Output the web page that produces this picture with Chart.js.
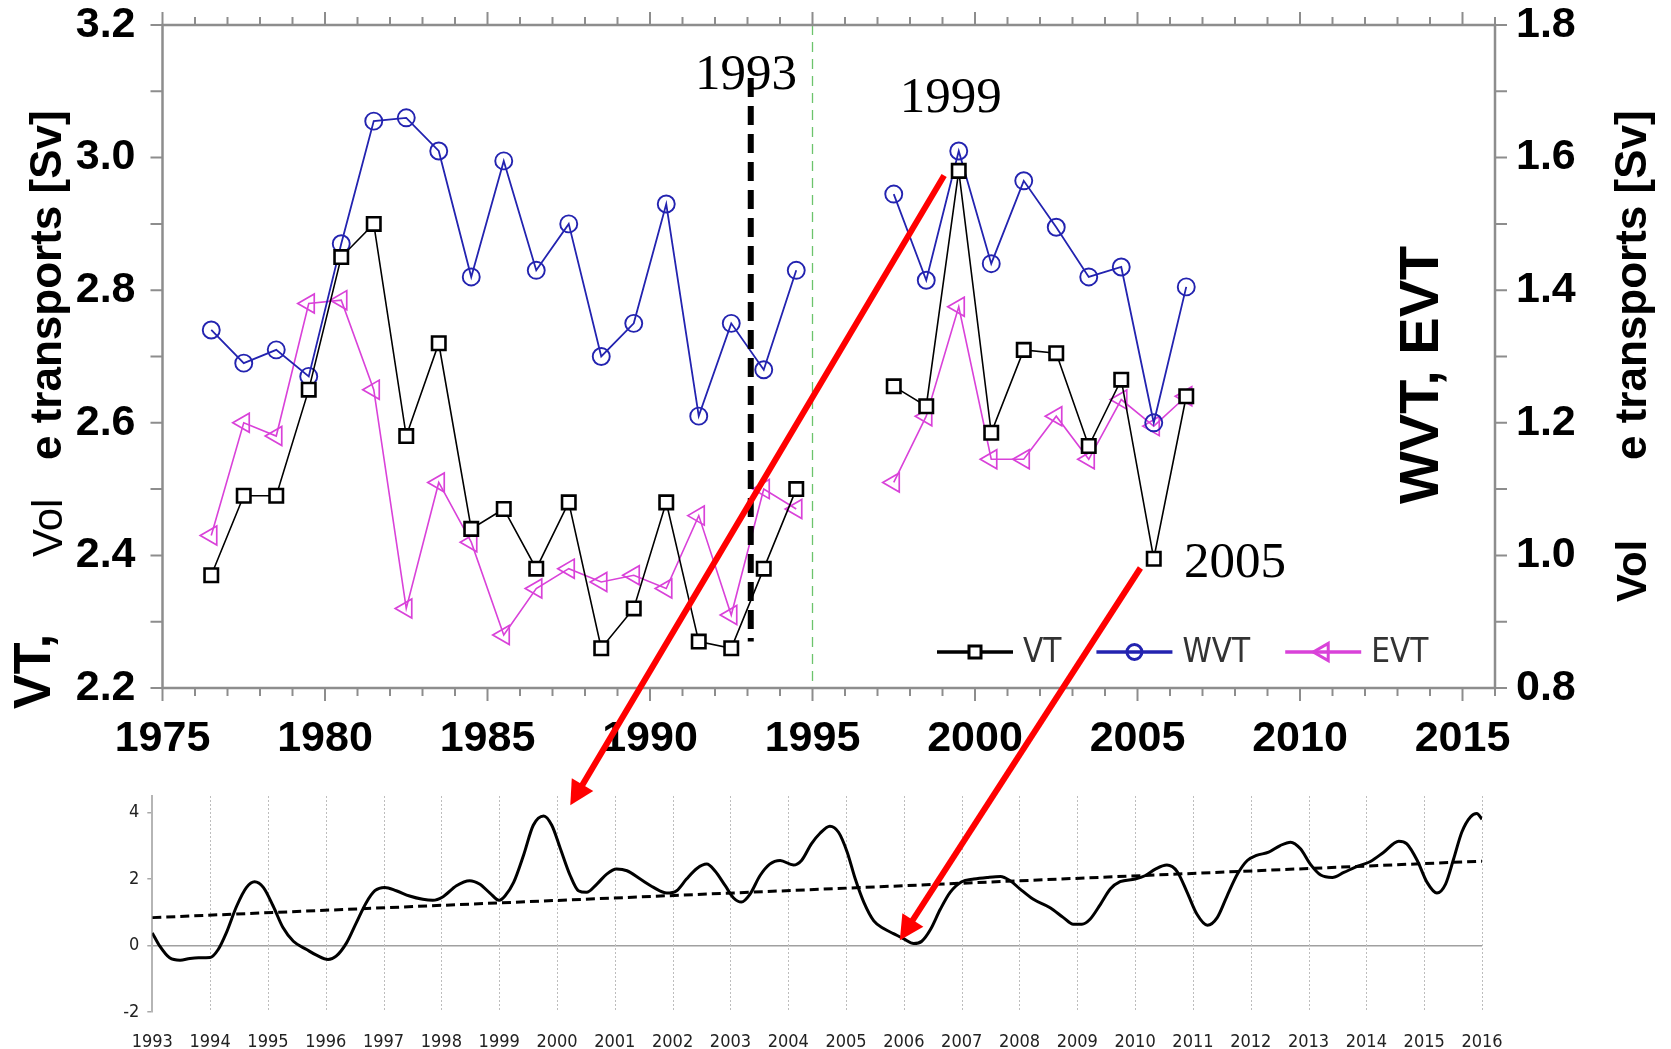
<!DOCTYPE html>
<html>
<head>
<meta charset="utf-8">
<script src="https://cdn.jsdelivr.net/npm/chart.js@4.4.1/dist/chart.umd.min.js"></script>
<style>
  html, body { margin: 0; padding: 0; background: #fff; }
  #wrap { position: relative; width: 1671px; height: 1049px; overflow: hidden; }
  #wrap canvas { position: absolute; left: 0; top: 0; }
</style>
</head>
<body>
<div id="wrap">
  <canvas id="anomaly" width="1671" height="1049"></canvas>
  <canvas id="transport" width="1671" height="1049"></canvas>
</div>
<script>
// ---- Annual volume transports (observation years centred mid-year) ----
const years = [1976.5, 1977.5, 1978.5, 1979.5, 1980.5, 1981.5, 1982.5, 1983.5, 1984.5, 1985.5,
               1986.5, 1987.5, 1988.5, 1989.5, 1990.5, 1991.5, 1992.5, 1993.5, 1994.5, 1995.5,
               1996.5, 1997.5, 1998.5, 1999.5, 2000.5, 2001.5, 2002.5, 2003.5, 2004.5, 2005.5, 2006.5];
// total transport, left axis [Sv]
const vtValues  = [2.37, 2.49, 2.49, 2.65, 2.85, 2.90, 2.58, 2.72, 2.44, 2.47,
                   2.38, 2.48, 2.26, 2.32, 2.48, 2.27, 2.26, 2.38, 2.50, null,
                   null, 2.655, 2.625, 2.98, 2.585, 2.71, 2.705, 2.565, 2.665, 2.395, 2.64];
// western branch, right axis [Sv]
const wvtValues = [1.34, 1.29, 1.31, 1.27, 1.47, 1.655, 1.66, 1.61, 1.42, 1.595,
                   1.43, 1.50, 1.30, 1.35, 1.53, 1.21, 1.35, 1.28, 1.43, null,
                   null, 1.545, 1.415, 1.61, 1.44, 1.565, 1.495, 1.42, 1.435, 1.20, 1.405];
// eastern branch, right axis [Sv]
const evtValues = [1.03, 1.20, 1.18, 1.38, 1.385, 1.25, 0.92, 1.11, 1.02, 0.88,
                   0.95, 0.98, 0.96, 0.97, 0.95, 1.06, 0.91, 1.10, 1.07, null,
                   null, 1.11, 1.21, 1.375, 1.145, 1.145, 1.21, 1.145, 1.235, 1.195, 1.24];

// ---- Smoothed anomaly series 1993-2016 ----
const anomalyYears = [1993.00, 1993.13, 1993.30, 1993.48, 1993.65, 1993.80, 1994.00, 1994.14, 1994.28, 1994.46,
  1994.63, 1994.77, 1994.92, 1995.09, 1995.26, 1995.44, 1995.67, 1995.84, 1996.04, 1996.18,
  1996.36, 1996.53, 1996.70, 1996.85, 1997.02, 1997.22, 1997.45, 1997.68, 1997.85, 1998.03,
  1998.26, 1998.49, 1998.66, 1998.84, 1999.00, 1999.10, 1999.25, 1999.42, 1999.59, 1999.77,
  1999.91, 2000.05, 2000.23, 2000.37, 2000.51, 2000.69, 2000.86, 2001.03, 2001.21, 2001.44,
  2001.67, 2001.90, 2002.07, 2002.24, 2002.42, 2002.59, 2002.73, 2002.91, 2003.05, 2003.19,
  2003.34, 2003.51, 2003.68, 2003.86, 2004.09, 2004.23, 2004.40, 2004.55, 2004.72, 2004.87,
  2005.02, 2005.16, 2005.31, 2005.48, 2005.65, 2005.82, 2006.00, 2006.17, 2006.31, 2006.46,
  2006.63, 2006.80, 2007.00, 2007.21, 2007.44, 2007.67, 2007.84, 2008.01, 2008.24, 2008.53,
  2008.76, 2008.93, 2009.08, 2009.22, 2009.40, 2009.57, 2009.74, 2010.00, 2010.17, 2010.35,
  2010.55, 2010.73, 2010.90, 2011.07, 2011.25, 2011.42, 2011.59, 2011.77, 2011.94, 2012.10,
  2012.31, 2012.51, 2012.69, 2012.86, 2013.03, 2013.21, 2013.41, 2013.61, 2013.84, 2014.07,
  2014.30, 2014.56, 2014.70, 2014.88, 2015.05, 2015.22, 2015.37, 2015.51, 2015.65, 2015.80,
  2015.91, 2016.00];
const anomalyValues = [0.38, -0.02, -0.37, -0.44, -0.39, -0.37, -0.36, -0.12, 0.38, 1.19,
  1.75, 1.92, 1.75, 1.19, 0.54, 0.13, -0.12, -0.29, -0.42, -0.32,
  0.08, 0.69, 1.29, 1.65, 1.75, 1.65, 1.49, 1.39, 1.36, 1.47,
  1.80, 1.95, 1.85, 1.58, 1.36, 1.49, 1.90, 2.71, 3.62, 3.90,
  3.62, 2.96, 2.10, 1.65, 1.60, 1.85, 2.15, 2.30, 2.25, 2.00,
  1.75, 1.58, 1.65, 2.00, 2.32, 2.45, 2.25, 1.80, 1.44, 1.31,
  1.55, 2.10, 2.45, 2.56, 2.42, 2.56, 3.06, 3.38, 3.59, 3.41,
  2.81, 2.00, 1.29, 0.74, 0.51, 0.36, 0.20, 0.06, 0.13, 0.48,
  1.09, 1.60, 1.92, 2.00, 2.05, 2.08, 1.95, 1.70, 1.39, 1.14,
  0.84, 0.64, 0.64, 0.79, 1.24, 1.70, 1.92, 2.00, 2.10, 2.30,
  2.42, 2.22, 1.60, 0.94, 0.61, 0.84, 1.49, 2.15, 2.56, 2.71,
  2.81, 3.01, 3.11, 2.91, 2.45, 2.12, 2.05, 2.20, 2.38, 2.53,
  2.81, 3.14, 3.06, 2.56, 1.90, 1.58, 1.85, 2.61, 3.41, 3.87,
  3.97, 3.80];
const trendYears  = [1993, 2016];
const trendValues = [0.84, 2.54];

// ---- Annotations (year / left-axis level pairs) ----
const markerYear = 1993.1;
const markerRange = [2.27, 3.12];
const boundaryYear = 1995;
const noteLabels = ['1993', '1999', '2005'];
const noteYears  = [1992.95, 1999.25, 2008.0];
const noteLevels = [3.104, 3.069, 2.368];
const arrowFromYears  = [1999.05, 2005.09];
const arrowFromLevels = [2.973, 2.381];
const arrowToYears    = [2000.23, 2005.93];
const arrowToLevels   = [4.22, 0.16];

const SANS = '"Liberation Sans", Arial, sans-serif';
const NARROW = '"Liberation Sans Narrow", "DejaVu Sans Condensed", sans-serif';
const SERIF = '"Liberation Serif", "Times New Roman", serif';
const AXIS_GREY = '#8d8d8d';
const BLUE = '#2323b0';
const MAGENTA = '#d942d9';

const toPoints = (xs, ys) => xs.map((x, i) => ({ x, y: ys[i] }));

// ================= lower panel: anomaly curve =================
const yearGrid = {
  id: 'yearGrid',
  beforeDatasetsDraw(chart) {
    const { ctx, chartArea: a, scales: { x } } = chart;
    ctx.save();
    ctx.strokeStyle = '#bdbdbd';
    ctx.lineWidth = 1;
    ctx.setLineDash([2, 2]);
    for (let yr = 1994; yr <= 2016; yr++) {
      const X = Math.round(x.getPixelForValue(yr)) + 0.5;
      ctx.beginPath();
      ctx.moveTo(X, a.top);
      ctx.lineTo(X, a.bottom);
      ctx.stroke();
    }
    ctx.restore();
  }
};

const anomalyChart = new Chart(document.getElementById('anomaly'), {
  type: 'line',
  data: {
    datasets: [
      {
        data: toPoints(anomalyYears, anomalyValues),
        borderColor: '#000', borderWidth: 3, pointRadius: 0,
        cubicInterpolationMode: 'monotone'
      },
      {
        data: toPoints(trendYears, trendValues),
        borderColor: '#000', borderWidth: 3, borderDash: [9, 5], pointRadius: 0
      }
    ]
  },
  options: {
    responsive: false, animation: false, events: [],
    layout: { padding: { top: 796, left: 0, right: 189, bottom: 0 } },
    plugins: { legend: { display: false }, tooltip: { enabled: false } },
    scales: {
      x: {
        type: 'linear', min: 1993, max: 2016,
        afterFit: s => { s.height = 37; },
        grid: { display: false }, border: { display: false },
        ticks: {
          stepSize: 1, autoSkip: false, maxRotation: 0, includeBounds: false, padding: 12,
          color: '#222', font: { family: NARROW, size: 18 },
          callback: v => String(v)
        }
      },
      y: {
        min: -2, max: 4.5,
        afterFit: s => { s.width = 152.3; },
        grid: {
          color: c => (c.tick && c.tick.value === 0 ? '#a0a0a0' : 'rgba(0,0,0,0)'),
          lineWidth: 1.5, tickColor: '#a8a8a8', tickLength: 5
        },
        border: { display: true, color: '#b5b5b5', width: 2 },
        ticks: {
          stepSize: 2, includeBounds: false, padding: 8,
          color: '#222', font: { family: NARROW, size: 18 },
          callback: v => String(v)
        }
      }
    }
  },
  plugins: [yearGrid]
});

// ================= upper panel: transports =================
function vText(ctx, text, x, y, font, color) {
  ctx.save();
  ctx.translate(x, y);
  ctx.rotate(-Math.PI / 2);
  ctx.font = font;
  ctx.fillStyle = color || '#000';
  ctx.textAlign = 'left';
  ctx.textBaseline = 'alphabetic';
  ctx.fillText(text, 0, 0);
  ctx.restore();
}

function marker(ctx, style, x, y, r, color, width, fill) {
  ctx.save();
  ctx.strokeStyle = color;
  ctx.lineWidth = width;
  ctx.beginPath();
  if (style === 'rect') {
    ctx.rect(x - r, y - r, 2 * r, 2 * r);
  } else if (style === 'circle') {
    ctx.arc(x, y, r, 0, Math.PI * 2);
  } else {
    ctx.moveTo(x - r, y);
    ctx.lineTo(x + r * 0.5, y - r * 0.866);
    ctx.lineTo(x + r * 0.5, y + r * 0.866);
    ctx.closePath();
  }
  if (fill) { ctx.fillStyle = fill; ctx.fill(); }
  ctx.stroke();
  ctx.restore();
}

function arrow(ctx, x1, y1, x2, y2) {
  const ang = Math.atan2(y2 - y1, x2 - x1);
  const head = 24, half = 12.5;
  const bx = x2 - head * Math.cos(ang), by = y2 - head * Math.sin(ang);
  ctx.save();
  ctx.strokeStyle = '#ff0000';
  ctx.fillStyle = '#ff0000';
  ctx.lineWidth = 6;
  ctx.beginPath();
  ctx.moveTo(x1, y1);
  ctx.lineTo(bx + 2 * Math.cos(ang), by + 2 * Math.sin(ang));
  ctx.stroke();
  ctx.beginPath();
  ctx.moveTo(x2, y2);
  ctx.lineTo(bx + half * Math.sin(ang), by - half * Math.cos(ang));
  ctx.lineTo(bx - half * Math.sin(ang), by + half * Math.cos(ang));
  ctx.closePath();
  ctx.fill();
  ctx.restore();
}

const frameTicks = {
  id: 'frameTicks',
  beforeDatasetsDraw(chart) {
    const { ctx, chartArea: a, scales: { x, y, y2 } } = chart;
    ctx.save();
    // boundary of the record gap
    ctx.strokeStyle = '#6cc46c';
    ctx.lineWidth = 1.3;
    ctx.setLineDash([10, 7]);
    const gx = x.getPixelForValue(boundaryYear);
    ctx.beginPath(); ctx.moveTo(gx, a.top); ctx.lineTo(gx, a.bottom); ctx.stroke();
    ctx.setLineDash([]);
    // frame
    ctx.strokeStyle = AXIS_GREY;
    ctx.lineWidth = 2.5;
    ctx.strokeRect(a.left, a.top, a.right - a.left, a.bottom - a.top);
    // ticks
    ctx.lineWidth = 2;
    ctx.beginPath();
    for (let yr = 1975; yr <= 2016; yr++) {
      const X = x.getPixelForValue(yr);
      const len = yr % 5 === 0 ? 13 : 8;
      ctx.moveTo(X, a.bottom); ctx.lineTo(X, a.bottom + len);
      ctx.moveTo(X, a.top); ctx.lineTo(X, a.top - len);
    }
    for (let k = 0; k <= 10; k++) {
      const YL = y.getPixelForValue(2.2 + k * 0.1);
      ctx.moveTo(a.left, YL); ctx.lineTo(a.left - 12, YL);
      const YR = y2.getPixelForValue(0.8 + k * 0.1);
      ctx.moveTo(a.right, YR); ctx.lineTo(a.right + 12, YR);
    }
    ctx.stroke();
    ctx.restore();
  },
  afterDatasetsDraw(chart) {
    const { ctx, scales: { x, y } } = chart;
    ctx.save();
    // year notes
    ctx.font = '51px ' + SERIF;
    ctx.fillStyle = '#000';
    ctx.textAlign = 'center';
    ctx.textBaseline = 'alphabetic';
    noteLabels.forEach((t, i) => {
      ctx.fillText(t, x.getPixelForValue(noteYears[i]), y.getPixelForValue(noteLevels[i]));
    });
    // 1993 marker
    ctx.strokeStyle = '#000';
    ctx.lineWidth = 6;
    ctx.setLineDash([19, 9]);
    const mx = x.getPixelForValue(markerYear);
    ctx.beginPath();
    ctx.moveTo(mx, y.getPixelForValue(markerRange[1]));
    ctx.lineTo(mx, y.getPixelForValue(markerRange[0]));
    ctx.stroke();
    ctx.setLineDash([]);
    ctx.restore();

    // axis titles
    vText(ctx, 'VT,', 50, 709, 'bold 52px ' + SANS);
    vText(ctx, 'Vol', 62, 557, '42px ' + SANS);
    vText(ctx, 'e transports [Sv]', 61, 460, 'bold 44px ' + SANS);
    vText(ctx, 'WVT, EVT', 1438, 504, 'bold 56px ' + SANS);
    vText(ctx, 'Vol', 1646, 602, 'bold 42px ' + SANS);
    vText(ctx, 'e transports [Sv]', 1646, 460, 'bold 44px ' + SANS);

    // legend
    ctx.save();
    ctx.font = '33px ' + NARROW;
    ctx.textBaseline = 'middle';
    ctx.textAlign = 'left';
    let lx = 937;
    const ly = 652;
    chart.data.datasets.forEach(ds => {
      ctx.strokeStyle = ds.borderColor;
      ctx.lineWidth = 3.5;
      ctx.beginPath(); ctx.moveTo(lx, ly); ctx.lineTo(lx + 76, ly); ctx.stroke();
      const st = ds.pointStyle;
      marker(ctx, st, lx + 38, ly, st === 'rect' ? 6 : st === 'circle' ? 7.5 : 10,
             ds.borderColor, 3, st === 'rect' ? '#fff' : null);
      ctx.fillStyle = '#333';
      ctx.fillText(ds.label, lx + 86, ly + 1);
      lx += 86 + ctx.measureText(ds.label).width + 35;
    });
    ctx.restore();
  },
  afterDraw(chart) {
    const { ctx, scales: { x, y } } = chart;
    const bx = anomalyChart.scales.x, by = anomalyChart.scales.y;
    arrowFromYears.forEach((yr, i) => {
      arrow(ctx,
        x.getPixelForValue(yr), y.getPixelForValue(arrowFromLevels[i]),
        bx.getPixelForValue(arrowToYears[i]), by.getPixelForValue(arrowToLevels[i]));
    });
  }
};

new Chart(document.getElementById('transport'), {
  type: 'line',
  data: {
    datasets: [
      {
        label: 'VT', data: toPoints(years, vtValues), yAxisID: 'y',
        borderColor: '#000', borderWidth: 1.6, spanGaps: false, tension: 0,
        pointStyle: 'rect', pointRadius: 9.5, pointBorderWidth: 2.6,
        pointBorderColor: '#000', pointBackgroundColor: '#fff'
      },
      {
        label: 'WVT', data: toPoints(years, wvtValues), yAxisID: 'y2',
        borderColor: BLUE, borderWidth: 1.8, spanGaps: false, tension: 0,
        pointStyle: 'circle', pointRadius: 8.5, pointBorderWidth: 1.9,
        pointBorderColor: BLUE, pointBackgroundColor: 'rgba(0,0,0,0)'
      },
      {
        label: 'EVT', data: toPoints(years, evtValues), yAxisID: 'y2',
        borderColor: MAGENTA, borderWidth: 1.6, spanGaps: false, tension: 0,
        pointStyle: 'triangle', pointRotation: -90, pointRadius: 11, pointBorderWidth: 1.7,
        pointBorderColor: MAGENTA, pointBackgroundColor: 'rgba(0,0,0,0)'
      }
    ]
  },
  options: {
    responsive: false, animation: false, events: [],
    layout: { padding: { top: 25, left: 0, right: 0, bottom: 0 } },
    plugins: { legend: { display: false }, tooltip: { enabled: false } },
    scales: {
      x: {
        type: 'linear', min: 1975, max: 2016,
        afterFit: s => { s.height = 361; },
        grid: { display: false }, border: { display: false },
        ticks: {
          stepSize: 5, autoSkip: false, maxRotation: 0, includeBounds: false, padding: 17,
          color: '#000', font: { family: SANS, size: 43, weight: 'bold' },
          callback: v => String(v)
        }
      },
      y: {
        position: 'left', min: 2.2, max: 3.2,
        afterFit: s => { s.width = 162.5; s.paddingTop = 0; s.paddingBottom = 0; },
        grid: { display: false }, border: { display: false },
        ticks: {
          stepSize: 0.2, includeBounds: false, padding: 19,
          color: '#000', font: { family: SANS, size: 43, weight: 'bold' },
          callback: v => v.toFixed(1)
        }
      },
      y2: {
        position: 'right', min: 0.8, max: 1.8,
        afterFit: s => { s.width = 176; s.paddingTop = 0; s.paddingBottom = 0; },
        grid: { display: false }, border: { display: false },
        ticks: {
          stepSize: 0.2, includeBounds: false, padding: 13,
          color: '#000', font: { family: SANS, size: 43, weight: 'bold' },
          callback: v => v.toFixed(1)
        }
      }
    }
  },
  plugins: [frameTicks]
});
</script>
</body>
</html>
